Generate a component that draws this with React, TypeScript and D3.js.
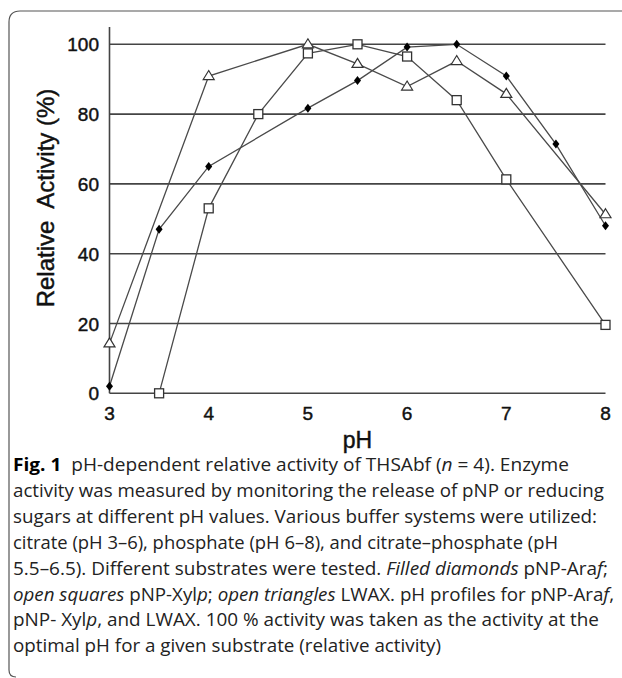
import React, { useEffect, useRef } from 'react';
import * as d3 from 'd3';

// pH values
const araf = [
  { ph: 3, v: 2 }, { ph: 3.5, v: 47 }, { ph: 4, v: 65 }, { ph: 5, v: 81.7 },
  { ph: 5.5, v: 89.6 }, { ph: 6, v: 99.2 }, { ph: 6.5, v: 100 }, { ph: 7, v: 90.9 },
  { ph: 7.5, v: 71.4 }, { ph: 8, v: 48 },
];
const xylp = [
  { ph: 3.5, v: 0 }, { ph: 4, v: 53 }, { ph: 4.5, v: 80 }, { ph: 5, v: 97.4 },
  { ph: 5.5, v: 100 }, { ph: 6, v: 96.5 }, { ph: 6.5, v: 84 }, { ph: 7, v: 61.3 },
  { ph: 8, v: 19.6 },
];
const lwax = [
  { ph: 3, v: 14.3 }, { ph: 4, v: 90.9 }, { ph: 5, v: 100 }, { ph: 5.5, v: 94.4 },
  { ph: 6, v: 87.9 }, { ph: 6.5, v: 95.2 }, { ph: 7, v: 85.8 }, { ph: 8, v: 51.3 },
];
const xTicks = [3, 4, 5, 6, 7, 8];
const yTicks = [0, 20, 40, 60, 80, 100];

const W = 622;
const H = 678;

export default function App() {
  const ref = useRef<SVGSVGElement>(null);

  useEffect(() => {
    document.body.style.margin = '0';
    const svg = d3.select(ref.current);
    svg.selectAll('*').remove();

    const x = d3.scaleLinear().domain([3, 8]).range([109.5, 605.5]);
    const y = d3.scaleLinear().domain([0, 100]).range([393.3, 44.3]);
    const axisFont = '"Liberation Sans", Arial, sans-serif';

    // panel frame
    svg.append('path')
      .attr('d', 'M 16 677 Q 9 677 9 670 L 9 22 Q 9 11 20 11 L 622 11')
      .attr('fill', 'none')
      .attr('stroke', '#555')
      .attr('stroke-width', 1.2);

    // gridlines
    svg.append('g').selectAll('line').data(yTicks).enter().append('line')
      .attr('x1', x(3)).attr('x2', x(8))
      .attr('y1', (d) => y(d)).attr('y2', (d) => y(d))
      .attr('stroke', '#444').attr('stroke-width', 1.6);

    // y axis line
    svg.append('line')
      .attr('x1', x(3)).attr('x2', x(3))
      .attr('y1', 27).attr('y2', y(0))
      .attr('stroke', '#444').attr('stroke-width', 1.6);

    const label = (sel: any, size: number) =>
      sel.style('font-family', axisFont).style('font-size', `${size}px`)
        .style('fill', '#111').style('stroke', '#111').style('stroke-width', '0.45px');

    label(svg.append('g').selectAll('text').data(yTicks).enter().append('text')
      .attr('x', 99).attr('y', (d: number) => y(d) + 7)
      .attr('text-anchor', 'end'), 19)
      .text((d: number) => d);

    label(svg.append('g').selectAll('text').data(xTicks).enter().append('text')
      .attr('x', (d: number) => x(d)).attr('y', 419.5)
      .attr('text-anchor', 'middle'), 19)
      .text((d: number) => d);

    label(svg.append('text')
      .attr('x', (x(3) + x(8)) / 2).attr('y', 448)
      .attr('text-anchor', 'middle'), 23)
      .text('pH');

    label(svg.append('text')
      .attr('transform', 'translate(54, 198) rotate(-90)')
      .attr('text-anchor', 'middle'), 24)
      .style('white-space', 'pre')
      .text('Relative  Activity (%)');

    const line = d3.line<{ ph: number; v: number }>().x((d) => x(d.ph)).y((d) => y(d.v));
    const plot = svg.append('g');
    [araf, xylp, lwax].forEach((s) => {
      plot.append('path').attr('d', line(s)!).attr('fill', 'none')
        .attr('stroke', '#4a4a4a').attr('stroke-width', 1.3);
    });

    // filled diamonds
    plot.selectAll('path.dia').data(araf).enter().append('path')
      .attr('class', 'dia')
      .attr('d', (d) => `M ${x(d.ph)} ${y(d.v) - 4.5} l 3.5 4.5 l -3.5 4.5 l -3.5 -4.5 Z`)
      .attr('fill', '#000');

    // open squares
    plot.selectAll('rect.sq').data(xylp).enter().append('rect')
      .attr('class', 'sq')
      .attr('x', (d) => x(d.ph) - 4.5).attr('y', (d) => y(d.v) - 4.5)
      .attr('width', 9).attr('height', 9)
      .attr('fill', '#fff').attr('stroke', '#333').attr('stroke-width', 1.3);

    // open triangles
    plot.selectAll('path.tri').data(lwax).enter().append('path')
      .attr('class', 'tri')
      .attr('d', (d) => `M ${x(d.ph)} ${y(d.v) - 5.5} l 5.5 9 l -11 0 Z`)
      .attr('fill', '#fff').attr('stroke', '#333').attr('stroke-width', 1.2);
  }, []);

  const cap = { fontFamily: '"Open Sans", "Noto Sans", sans-serif', fontSize: '18.5px', fill: '#222' };
  const lines: { w: number; parts: React.ReactNode }[] = [
    { w: 556, parts: (<><tspan fontWeight="bold" fill="#000">Fig. 1</tspan>{'  pH-dependent relative activity of THSAbf ('}<tspan fontStyle="italic">n</tspan>{' = 4). Enzyme'}</>) },
    { w: 591, parts: 'activity was measured by monitoring the release of pNP or reducing' },
    { w: 584, parts: 'sugars at different pH values. Various buffer systems were utilized:' },
    { w: 545, parts: 'citrate (pH 3–6), phosphate (pH 6–8), and citrate–phosphate (pH' },
    { w: 595, parts: (<>{'5.5–6.5). Different substrates were tested. '}<tspan fontStyle="italic">Filled diamonds</tspan>{' pNP-Ara'}<tspan fontStyle="italic">f</tspan>{';'}</>) },
    { w: 601, parts: (<><tspan fontStyle="italic">open squares</tspan>{' pNP-Xyl'}<tspan fontStyle="italic">p</tspan>{'; '}<tspan fontStyle="italic">open triangles</tspan>{' LWAX. pH profiles for pNP-Ara'}<tspan fontStyle="italic">f</tspan>{','}</>) },
    { w: 586, parts: (<>{'pNP- Xyl'}<tspan fontStyle="italic">p</tspan>{', and LWAX. 100 % activity was taken as the activity at the'}</>) },
    { w: 428, parts: 'optimal pH for a given substrate (relative activity)' },
  ];

  return (
    <div style={{ position: 'absolute', left: 0, top: 0 }}>
      <svg ref={ref} width={W} height={H} style={{ position: 'absolute', left: 0, top: 0 }} />
      <svg width={W} height={H} style={{ position: 'absolute', left: 0, top: 0 }}>
        {lines.map((l, i) => (
          <text key={i} x={13} y={471 + i * 25.9} textLength={l.w} lengthAdjust="spacingAndGlyphs"
            style={{ ...cap, whiteSpace: 'pre' }}>
            {l.parts}
          </text>
        ))}
      </svg>
    </div>
  );
}
